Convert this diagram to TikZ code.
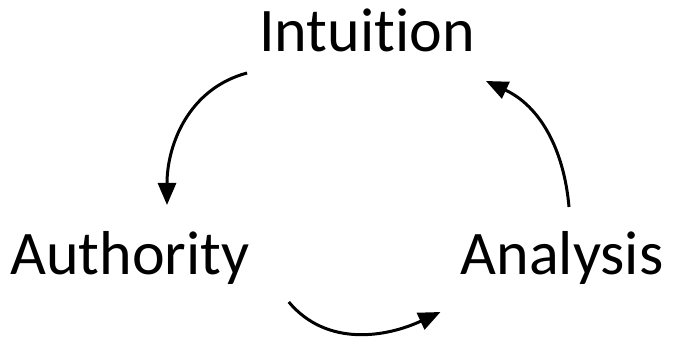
\documentclass[tikz,border=0pt]{standalone}
\usepackage{fontspec}
\setmainfont[Ligatures={NoCommon}]{Carlito}
\usetikzlibrary{arrows.meta,calc}

\tikzset{
  word/.style={anchor=base, inner sep=0pt, font=\fontsize{62}{74}\selectfont},
  cycle/.style={line width=3pt, -{Triangle[length=22pt,width=18pt]}}
}

\begin{document}
\begin{tikzpicture}[x=1pt,y=1pt]
    \useasboundingbox (0,0) rectangle (674,344);
    \node[word] (intuition) at (367,292) {Intuition};
    \node[word] (authority) at (130,69) {Authority};
    \node[word] (analysis) at (562,69) {Analysis};
    % the three bent arrows
    \draw[cycle] ($(intuition.base west)+(-12,-21)$)
          to[out=195, in=90] ($(authority.base)+(37,70)$);
    \draw[cycle] ($(authority.base east)+(39,-27)$)
          to[out=-50, in=205] ($(analysis.base west)+(-20,-37)$);
    \draw[cycle] ($(analysis.base)+(7,68)$)
          to[out=95, in=-25] ($(intuition.base east)+(11,-29)$);
\end{tikzpicture}
\end{document}
